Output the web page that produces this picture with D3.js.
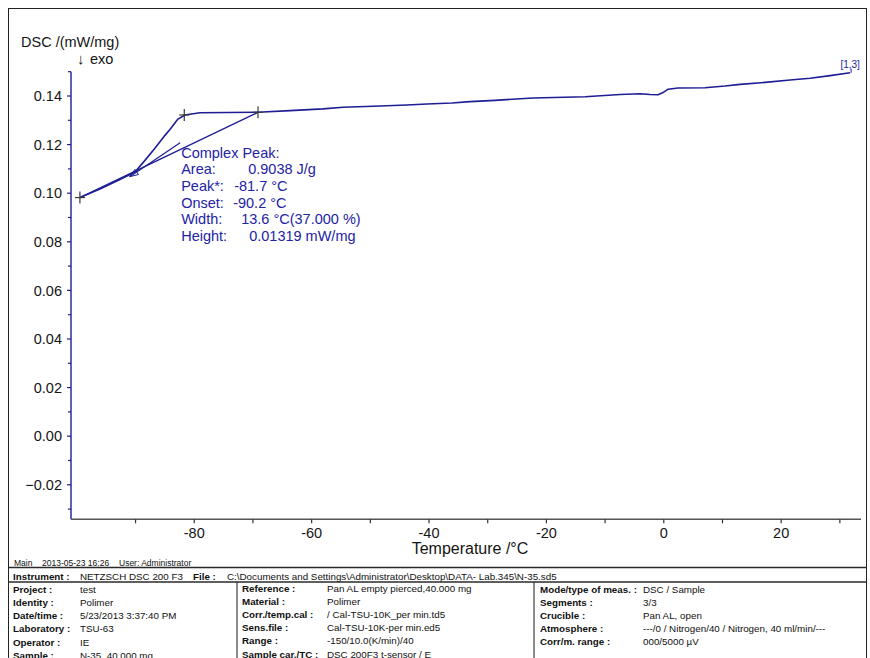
<!DOCTYPE html>
<html>
<head>
<meta charset="utf-8">
<script src="https://cdn.jsdelivr.net/npm/d3@7"></script>
<style>
  html, body { margin: 0; padding: 0; background: #fff; }
  svg { display: block; }
  text { font-family: "Liberation Sans", Arial, sans-serif; }
</style>
</head>
<body>
<svg id="chart" width="870" height="658"></svg>
<script>
// DSC heating segment 3/3, sample N-35
const temperature = [-99.48, -96.07, -92.66, -90.10, -88.40, -86.70, -84.99, -84.14, -82.78, -81.59, -79.03,
  -69.14, -63.69, -58.06, -54.65, -49.54, -43.75, -40.34, -36.08, -33.01, -28.75,
  -22.27, -13.41, -7.45, -4.04, -2.34, -0.98, -0.13, 0.73, 2.43, 7.03,
  10.44, 13.0, 17.26, 21.52, 24.93, 28.34, 31.75];
const dsc = [0.0982, 0.1017, 0.1056, 0.1087, 0.1135, 0.1185, 0.1238, 0.1262, 0.1305, 0.1322, 0.1331,
  0.1333, 0.1340, 0.1347, 0.1354, 0.1358, 0.1363, 0.1367, 0.1371, 0.1377, 0.1382,
  0.1392, 0.1397, 0.1406, 0.1409, 0.1406, 0.1405, 0.1414, 0.1428, 0.1433, 0.1434,
  0.1441, 0.1448, 0.1456, 0.1466, 0.1473, 0.1484, 0.1496];

// Peak evaluation: integration limits / peak markers and the straight baseline
const markerT = [-99.48, -81.7, -69.14];
const markerV = [0.0982, 0.1322, 0.1333];
const onsetT = -91.0, onsetV = 0.1068;
const leaderEndT = -82.4, leaderEndV = 0.1208;

const peakLines = [
  ["Complex Peak:", ""],
  ["Area:", "0.9038 J/g"],
  ["Peak*:", "-81.7 °C"],
  ["Onset:", "-90.2 °C"],
  ["Width:", "13.6 °C(37.000 %)"],
  ["Height:", "0.01319 mW/mg"]
];
const valueOffsets = [0, 67, 53, 52, 60, 68];

const yMajor = [0.14, 0.12, 0.10, 0.08, 0.06, 0.04, 0.02, 0.00, -0.02];
const yMinor = [0.15, 0.13, 0.11, 0.09, 0.07, 0.05, 0.03, 0.01, -0.01, -0.03];
const xMajor = [-80, -60, -40, -20, 0, 20];
const xMinor = [-90, -70, -50, -30, -10, 10, 30];

// Footer information block
const col1Labels = ["Project :", "Identity :", "Date/time :", "Laboratory :", "Operator :", "Sample :"];
const col1Values = ["test", "Polimer", "5/23/2013 3:37:40 PM", "TSU-63", "IE", "N-35, 40.000 mg"];
const col2Labels = ["Reference :", "Material :", "Corr./temp.cal :", "Sens.file :", "Range :", "Sample car./TC :"];
const col2Values = ["Pan AL empty pierced,40.000 mg", "Polimer", " / Cal-TSU-10K_per min.td5",
  "Cal-TSU-10K-per min.ed5", "-150/10.0(K/min)/40", "DSC 200F3 t-sensor / E"];
const col3Labels = ["Mode/type of meas. :", "Segments :", "Crucible :", "Atmosphere :", "Corr/m. range :"];
const col3Values = ["DSC / Sample", "3/3", "Pan AL, open", "---/0 / Nitrogen/40 / Nitrogen, 40 ml/min/---", "000/5000 µV"];

const svg = d3.select("#chart");
const navy = "#1e1e94";
const textBlue = "#2323a6";

const x = d3.scaleLinear().domain([-101.0, 33.6]).range([71, 861]);
const y = d3.scaleLinear().domain([-0.0342, 0.15]).range([519.3, 71.7]);

// outer frame
svg.append("rect").attr("x", 8.5).attr("y", 8.5).attr("width", 858).attr("height", 660)
  .attr("fill", "none").attr("stroke", "#222").attr("stroke-width", 1);

// Y axis (navy, ticks to the left)
const yAxis = svg.append("g").attr("transform", "translate(71,0)");
yAxis.append("line").attr("x1", 0).attr("x2", 0).attr("y1", y(0.15)).attr("y2", y.range()[0])
  .attr("stroke", navy).attr("stroke-width", 1.4);
yAxis.selectAll("line.maj").data(yMajor).join("line").attr("class", "maj")
  .attr("x1", -4).attr("x2", 0).attr("y1", d => y(d)).attr("y2", d => y(d))
  .attr("stroke", navy).attr("stroke-width", 1.2);
yAxis.selectAll("line.min").data(yMinor).join("line").attr("class", "min")
  .attr("x1", -3).attr("x2", 0).attr("y1", d => y(d)).attr("y2", d => y(d))
  .attr("stroke", navy).attr("stroke-width", 1.2);
yAxis.selectAll("text").data(yMajor).join("text")
  .attr("x", -9).attr("y", d => y(d)).attr("dy", "0.36em")
  .attr("text-anchor", "end").attr("font-size", 14.5).attr("fill", "#151515")
  .text(d => d3.format(".2f")(d));

// X axis (grey, ticks downward)
const xAxis = svg.append("g").attr("transform", `translate(0,${y.range()[0]})`);
xAxis.append("line").attr("x1", x.range()[0]).attr("x2", x.range()[1]).attr("y1", 0).attr("y2", 0)
  .attr("stroke", "#555").attr("stroke-width", 1.4);
xAxis.selectAll("line.tk").data(xMajor.concat(xMinor)).join("line").attr("class", "tk")
  .attr("x1", d => x(d)).attr("x2", d => x(d)).attr("y1", 0).attr("y2", 4)
  .attr("stroke", "#333").attr("stroke-width", 1.2);
xAxis.selectAll("text").data(xMajor).join("text")
  .attr("x", d => x(d)).attr("y", 19).attr("text-anchor", "middle")
  .attr("font-size", 14.5).attr("fill", "#151515").text(d => d);

// axis titles
svg.append("text").attr("x", 21).attr("y", 47).attr("font-size", 14.5).attr("fill", "#151515")
  .text("DSC /(mW/mg)");
svg.append("text").attr("x", 77).attr("y", 64).attr("font-size", 15).attr("fill", "#151515")
  .text("\u2193").attr("font-family", "DejaVu Sans");
svg.append("text").attr("x", 90).attr("y", 64).attr("font-size", 14.5).attr("fill", "#151515")
  .text("exo");
svg.append("text").attr("x", 470).attr("y", 554).attr("text-anchor", "middle")
  .attr("font-size", 16).attr("fill", "#151515").text("Temperature /°C");

// integration baseline
svg.append("line")
  .attr("x1", x(markerT[0])).attr("y1", y(markerV[0]))
  .attr("x2", x(markerT[2])).attr("y2", y(markerV[2]))
  .attr("stroke", navy).attr("stroke-width", 1.5);

// DSC curve
const line = d3.line().x(d => x(d[0])).y(d => y(d[1]));
svg.append("path").datum(d3.zip(temperature, dsc)).attr("d", line)
  .attr("fill", "none").attr("stroke", navy).attr("stroke-width", 1.6)
  .attr("stroke-linejoin", "round");

// leader line from onset to the result text, with open arrow head
const tipX = x(onsetT), tipY = y(onsetV), endX = x(leaderEndT), endY = y(leaderEndV);
svg.append("line").attr("x1", tipX).attr("y1", tipY).attr("x2", endX).attr("y2", endY)
  .attr("stroke", navy).attr("stroke-width", 1.2);
{
  const ang = Math.atan2(endY - tipY, endX - tipX);
  const len = 9, spread = 0.35;
  const p1 = [tipX + len * Math.cos(ang + spread), tipY + len * Math.sin(ang + spread)];
  const p2 = [tipX + len * Math.cos(ang - spread), tipY + len * Math.sin(ang - spread)];
  svg.append("path").attr("d", `M${p1[0]},${p1[1]}L${tipX},${tipY}L${p2[0]},${p2[1]}Z`)
    .attr("fill", "none").attr("stroke", navy).attr("stroke-width", 1);
}

// cross markers
svg.selectAll("g.mark").data(d3.zip(markerT, markerV)).join("g").attr("class", "mark")
  .attr("transform", d => `translate(${x(d[0])},${y(d[1])})`)
  .each(function () {
    const g = d3.select(this);
    g.append("line").attr("x1", -5).attr("x2", 5).attr("y1", 0).attr("y2", 0);
    g.append("line").attr("x1", 0).attr("x2", 0).attr("y1", -6).attr("y2", 6);
  })
  .selectAll("line").attr("stroke", "#3a3a3a").attr("stroke-width", 1.2);

// result text
const txt = svg.append("g").attr("transform", `translate(${endX + 1},${endY + 15})`);
peakLines.forEach((r, i) => {
  txt.append("text").attr("x", 0).attr("y", i * 16.7).attr("font-size", 14.5).attr("fill", textBlue).text(r[0]);
  if (r[1]) txt.append("text").attr("x", valueOffsets[i]).attr("y", i * 16.7)
    .attr("font-size", 14.5).attr("fill", textBlue).text(r[1]);
});

// curve end label
const lastX = x(temperature[temperature.length - 1]), lastY = y(dsc[dsc.length - 1]);
svg.append("line").attr("x1", lastX + 1).attr("x2", lastX + 1).attr("y1", lastY - 4).attr("y2", lastY)
  .attr("stroke", navy).attr("stroke-width", 1);
svg.append("text").attr("x", lastX).attr("y", lastY - 5).attr("text-anchor", "middle")
  .attr("font-size", 10).attr("fill", textBlue).text("[1,3]");

// footer
const ft = svg.append("g").attr("fill", "#111").attr("font-size", 9.8);
ft.append("text").attr("x", 14).attr("y", 566).attr("font-size", 8.5).text("Main");
ft.append("text").attr("x", 42).attr("y", 566).attr("font-size", 8.5).text("2013-05-23 16:26");
ft.append("text").attr("x", 119).attr("y", 566).attr("font-size", 8.5).text("User: Administrator");

const ln = (x1, y1, x2, y2, w) => svg.append("line").attr("x1", x1).attr("y1", y1).attr("x2", x2).attr("y2", y2)
  .attr("stroke", "#2a2a2a").attr("stroke-width", w || 1.2);
ln(8.5, 567.5, 866.5, 567.5, 1.4);
ln(8.5, 582, 866.5, 582, 1.4);
ln(237, 582, 237, 658, 1.1);
ln(534, 582, 534, 658, 1.1);

ft.append("text").attr("x", 13).attr("y", 579.5).attr("font-weight", "bold").text("Instrument :");
ft.append("text").attr("x", 80).attr("y", 579.5).text("NETZSCH DSC 200 F3");
ft.append("text").attr("x", 193).attr("y", 579.5).attr("font-weight", "bold").text("File :");
ft.append("text").attr("x", 227).attr("y", 579.5)
  .text("C:\\Documents and Settings\\Administrator\\Desktop\\DATA- Lab.345\\N-35.sd5");

function column(labels, values, lx, vx, y0, dy) {
  labels.forEach((l, i) => {
    ft.append("text").attr("x", lx).attr("y", y0 + i * dy).attr("font-weight", "bold").text(l);
    ft.append("text").attr("x", vx).attr("y", y0 + i * dy).text(values[i]);
  });
}
column(col1Labels, col1Values, 13, 80, 592.5, 13.3);
column(col2Labels, col2Values, 242, 327, 592, 13.1);
column(col3Labels, col3Values, 540, 643, 592.5, 13.1);
</script>
</body>
</html>
